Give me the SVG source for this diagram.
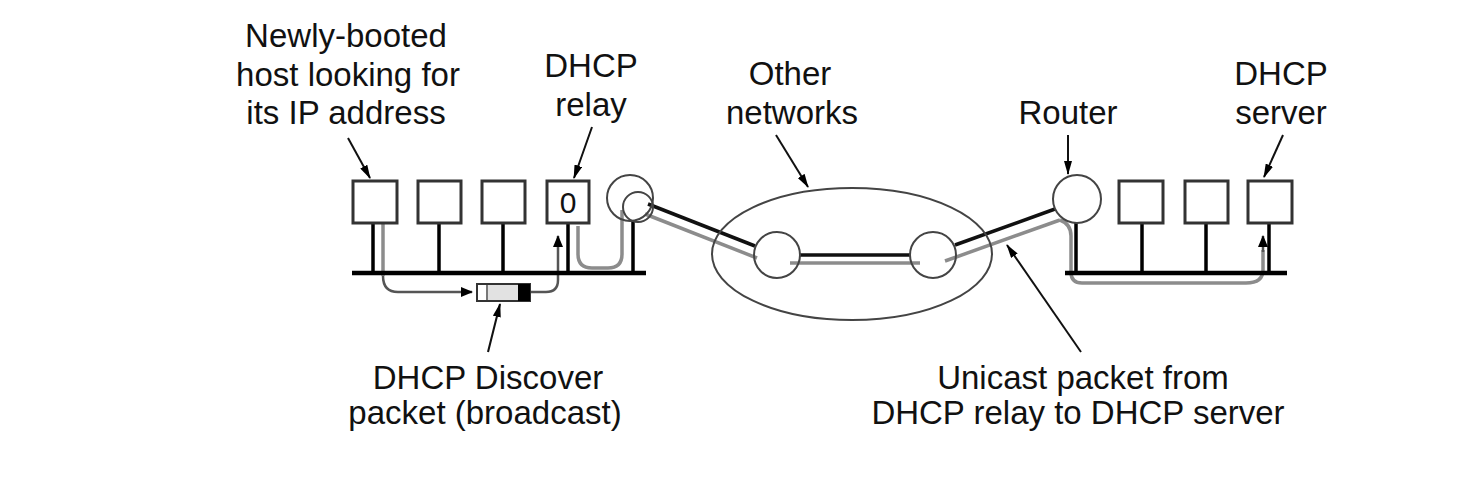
<svg xmlns="http://www.w3.org/2000/svg" width="1481" height="481" viewBox="0 0 1481 481">
<defs>
<style>
text{font-family:"Liberation Sans",Arial,sans-serif;font-size:33px;fill:#111;text-anchor:middle}
.box{fill:#fff;stroke:#333;stroke-width:3}
.bus{stroke:#000;stroke-width:4.5;fill:none}
.stem{stroke:#000;stroke-width:3.5;fill:none}
.ring{fill:none;stroke:#444;stroke-width:2}
.route{fill:none;stroke:#8c8c8c;stroke-width:3.5}
.flow{fill:none;stroke:#555;stroke-width:2.5}
.blk{fill:none;stroke:#111;stroke-width:3.5}
.ptr{fill:none;stroke:#111;stroke-width:2;marker-end:url(#ah)}
</style>
<marker id="ah" viewBox="0 0 14 8" refX="13" refY="4" markerWidth="14" markerHeight="8" markerUnits="userSpaceOnUse" orient="auto">
<path d="M0,0 L14,4 L0,8 Z" fill="#000"/>
</marker>
<marker id="fh" viewBox="0 0 12 10" refX="11" refY="5" markerWidth="12" markerHeight="10" markerUnits="userSpaceOnUse" orient="auto">
<path d="M0,0 L12,5 L0,10 Z" fill="#000"/>
</marker>
</defs>

<g id="connectors">
<line class="blk" x1="648" y1="204" x2="755" y2="246"/>
<line class="route" x1="645" y1="214" x2="757" y2="258"/>
<line class="blk" x1="800" y1="255" x2="910" y2="255"/>
<line class="route" x1="790" y1="263" x2="920" y2="263"/>
<line class="blk" x1="955" y1="245" x2="1055" y2="209"/>
<line class="route" x1="945" y1="261" x2="1060" y2="220"/>
<path class="route" d="M578,226 V254 Q578,268 592,268 H608 Q622,268 622,254 V210"/>
<path class="route" d="M383,224 V276"/>
<path class="flow" d="M383,276 Q383,292 398,292 H472" marker-end="url(#fh)"/>
<path class="flow" d="M531,292 H546 Q558,292 558,280 V236" marker-end="url(#fh)"/>
<path class="route" d="M1060,220 Q1071,224 1071,236 V272 Q1071,283 1082,283 H1246 Q1263,283 1263,270 V250"/>
<path class="flow" d="M1263,252 V236" marker-end="url(#fh)"/>
<line class="ptr" x1="348" y1="138" x2="370" y2="178"/>
<line class="ptr" x1="592" y1="127" x2="574" y2="178"/>
<line class="ptr" x1="776" y1="135" x2="808" y2="187"/>
<line class="ptr" x1="1068" y1="135" x2="1068" y2="174"/>
<line class="ptr" x1="1283" y1="135" x2="1264" y2="177"/>
<line class="ptr" x1="1081" y1="352" x2="1007" y2="245"/>
<line class="ptr" x1="488" y1="352" x2="500" y2="304"/>
</g>

<g id="lan-left">
<line class="bus" x1="352" y1="273" x2="646" y2="273"/>
<line class="stem" x1="373" y1="223" x2="373" y2="273"/>
<line class="stem" x1="439" y1="223" x2="439" y2="273"/>
<line class="stem" x1="503" y1="223" x2="503" y2="273"/>
<line class="stem" x1="568" y1="223" x2="568" y2="273"/>
<line class="stem" x1="633" y1="221" x2="633" y2="273"/>
</g>

<g id="host-new"><rect class="box" x="353" y="181" width="44" height="42"/></g>
<g id="host-2"><rect class="box" x="418" y="181" width="43" height="42"/></g>
<g id="host-3"><rect class="box" x="482" y="181" width="43" height="42"/></g>
<g id="dhcp-relay"><rect class="box" x="547" y="181" width="42" height="42"/><text x="568" y="213" style="font-size:30px">0</text></g>
<g id="router-left"><circle class="ring" cx="630" cy="198" r="23"/><circle class="ring" cx="638" cy="207" r="15"/></g>

<g id="other-networks">
<ellipse class="ring" cx="852" cy="254" rx="140" ry="66"/>
<circle class="ring" cx="777" cy="255" r="23"/>
<circle class="ring" cx="933" cy="255" r="23"/>
</g>

<g id="lan-right">
<line class="bus" x1="1065" y1="273" x2="1287" y2="273"/>
<line class="stem" x1="1076" y1="222" x2="1076" y2="273"/>
<line class="stem" x1="1142" y1="223" x2="1142" y2="273"/>
<line class="stem" x1="1206" y1="223" x2="1206" y2="273"/>
<line class="stem" x1="1269" y1="223" x2="1269" y2="273"/>
</g>
<g id="router"><circle class="ring" cx="1077" cy="199" r="24"/></g>
<g id="host-r1"><rect class="box" x="1119" y="181" width="44" height="42"/></g>
<g id="host-r2"><rect class="box" x="1185" y="181" width="43" height="42"/></g>
<g id="dhcp-server"><rect class="box" x="1248" y="181" width="44" height="42"/></g>

<g id="packet">
<rect x="477" y="284" width="53" height="17" fill="#e2e2e2" stroke="#333" stroke-width="2"/>
<rect x="478" y="285" width="8" height="15" fill="#fff"/>
<line x1="487" y1="285" x2="487" y2="300" stroke="#555" stroke-width="1.5"/>
<rect x="518" y="284" width="12" height="17" fill="#000"/>
</g>

<g id="labels">
<text x="346" y="47">Newly-booted</text>
<text x="348" y="86">host looking for</text>
<text x="346" y="124">its IP address</text>
<text x="591" y="77">DHCP</text>
<text x="591" y="116">relay</text>
<text x="790" y="85">Other</text>
<text x="792" y="124">networks</text>
<text x="1068" y="124">Router</text>
<text x="1281" y="85">DHCP</text>
<text x="1281" y="124">server</text>
<text x="488" y="389">DHCP Discover</text>
<text x="485" y="424">packet (broadcast)</text>
<text x="1083" y="389">Unicast packet from</text>
<text x="1078" y="424">DHCP relay to DHCP server</text>
</g>
</svg>
